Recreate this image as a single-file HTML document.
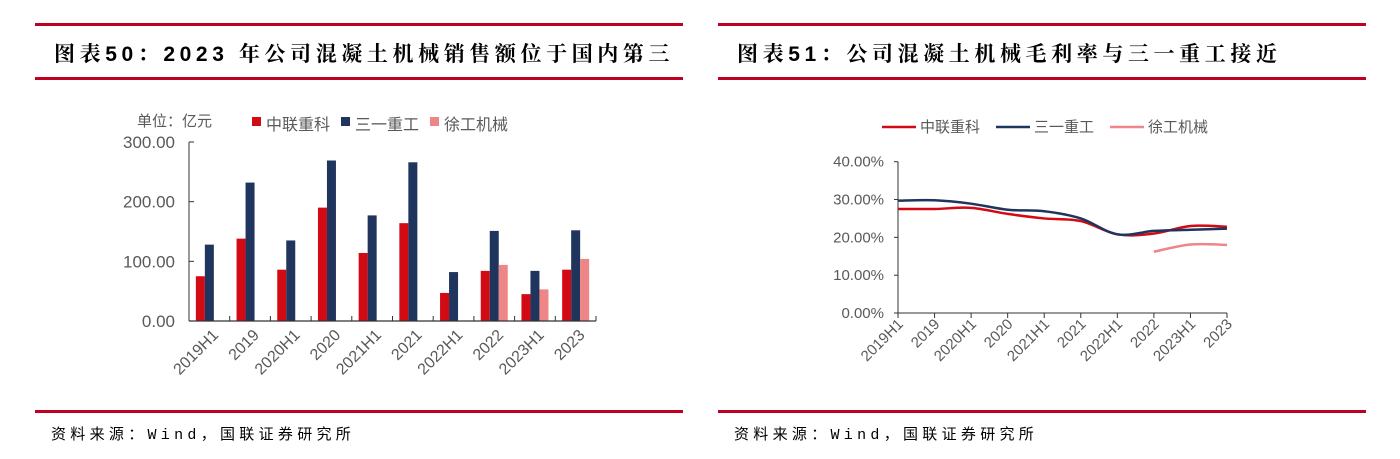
<!DOCTYPE html>
<html><head><meta charset="utf-8"><style>
body{margin:0;width:1400px;height:459px;background:#fff;position:relative;overflow:hidden;font-family:"Liberation Sans","Noto Sans CJK SC",sans-serif}
.hr{position:absolute;height:3px;background:#c00023}
.title{position:absolute;top:38px;font-family:"Liberation Sans","Noto Serif CJK SC",serif;font-weight:bold;font-size:21px;color:#000;white-space:nowrap;letter-spacing:4.6px}
.foot{position:absolute;top:423px;font-family:"Liberation Mono","Noto Sans CJK SC",monospace;font-size:15px;color:#000;letter-spacing:4.3px;white-space:nowrap}
svg{position:absolute;left:0;top:0}
</style></head><body>
<div class="hr" style="left:35px;top:23px;width:648px"></div>
<div class="hr" style="left:35px;top:77px;width:648px"></div>
<div class="hr" style="left:718px;top:23px;width:648px"></div>
<div class="hr" style="left:718px;top:77px;width:648px"></div>
<div class="hr" style="left:35px;top:410px;width:648px"></div>
<div class="hr" style="left:718px;top:410px;width:648px"></div>
<div class="title" style="left:54px">图表50：2023 年公司混凝土机械销售额位于国内第三</div>
<div class="title" style="left:737px">图表51：公司混凝土机械毛利率与三一重工接近</div>
<div class="foot" style="left:51px">资料来源：Wind，国联证券研究所</div>
<div class="foot" style="left:734px">资料来源：Wind，国联证券研究所</div>
<svg id="s" width="1400" height="459"></svg>
<script>
const categories=["2019H1","2019","2020H1","2020","2021H1","2021","2022H1","2022","2023H1","2023"];
const zoomlionSales=[75,138,86,190,114,164,47,84,45,86];
const sanySales=[128,232,135,269,177,266,82,151,84,152];
const xcmgSales=[null,null,null,null,null,null,null,94,53,104];
const barTicks=[0,100,200,300];
const barTickLabels=["0.00","100.00","200.00","300.00"];
const zoomlionMargin=[27.5,27.5,27.8,26.2,25.0,24.3,20.8,21.0,23.0,22.8];
const sanyMargin=[29.7,29.8,28.9,27.3,26.9,25.0,20.8,21.7,22.0,22.3];
const xcmgMargin=[null,null,null,null,null,null,null,16.2,18.1,18.0];
const lineTicks=[0,10,20,30,40];
const lineTickLabels=["0.00%","10.00%","20.00%","30.00%","40.00%"];
const seriesNames=["中联重科","三一重工","徐工机械"];
const colors=["#d10a14","#1f355e","#ee8587"];

const svg=document.getElementById('s');const NS="http://www.w3.org/2000/svg";
function el(t,a,txt){const e=document.createElementNS(NS,t);for(const k in a)e.setAttribute(k,a[k]);if(txt!=null)e.textContent=txt;svg.appendChild(e);return e;}

// Bar chart
const bx0=189,bx1=596,by0=321,by1=142,bMax=300;
const band=(bx1-bx0)/categories.length;
const bY=v=>by0-(v/bMax)*(by0-by1);
const bw=9;
[zoomlionSales,sanySales,xcmgSales].forEach((arr,si)=>{arr.forEach((v,i)=>{if(v==null)return;
 const x=bx0+i*band+(band-3*bw)/2+si*bw;
 const r=el('rect',{x:x,y:bY(v),width:bw,height:by0-bY(v),fill:colors[si]});
 
 });});
let a=el('line',{x1:bx0,y1:by1,x2:bx0,y2:by0,stroke:'#333','stroke-width':1});

a=el('line',{x1:bx0,y1:by0,x2:bx1,y2:by0,stroke:'#333','stroke-width':1.2});

barTicks.forEach((v,i)=>{el('line',{x1:bx0,y1:bY(v),x2:bx0+5,y2:bY(v),stroke:'#333'});
 const t=el('text',{x:bx0-14,y:bY(v)+6,'text-anchor':'end','font-size':17,fill:'#595959'},barTickLabels[i]);
 });
categories.forEach((c,i)=>{const x=bx0+(i+1)*band;el('line',{x1:x,y1:by0,x2:x,y2:by0-5,stroke:'#333'});
 const cx=bx0+(i+0.5)*band+10;
 const t=el('text',{x:cx,y:336,'text-anchor':'end','font-size':16,fill:'#595959',transform:`rotate(-45 ${cx} 336)`},c);
 });
let u=el('text',{x:137,y:126,'font-size':15,fill:'#595959'},'单位：亿元');

[[252,"中联重科"],[341,"三一重工"],[430,"徐工机械"]].forEach((p,i)=>{
 el('rect',{x:p[0],y:117,width:9,height:9,fill:colors[i]});
 const t=el('text',{x:p[0]+14,y:130,'font-size':16,fill:'#595959'},p[1]);
 });

// Line chart
const lx0=898,lx1=1227,ly0=313,ly1=161.7,lMax=40;
const lX=i=>lx0+i*(lx1-lx0)/(categories.length-1);
const lY=v=>ly0-(v/lMax)*(ly0-ly1);
a=el('line',{x1:lx0,y1:ly1,x2:lx0,y2:ly0,stroke:'#333'});
a=el('line',{x1:lx0,y1:ly0,x2:lx1,y2:ly0,stroke:'#333'});
lineTicks.forEach((v,i)=>{el('line',{x1:lx0-4,y1:lY(v),x2:lx0,y2:lY(v),stroke:'#333'});
 const t=el('text',{x:lx0-14,y:lY(v)+5,'text-anchor':'end','font-size':15,fill:'#595959'},lineTickLabels[i]);
 });
categories.forEach((c,i)=>{const x=lX(i);el('line',{x1:x,y1:ly0,x2:x,y2:ly0+5,stroke:'#333'});
 const t=el('text',{x:x+6,y:325,'text-anchor':'end','font-size':15,fill:'#595959',transform:`rotate(-45 ${x+6} 325)`},c);
 });
function smooth(pts){let d=`M${pts[0][0]},${pts[0][1]}`;for(let i=0;i<pts.length-1;i++){const p0=pts[i-1]||pts[i],p1=pts[i],p2=pts[i+1],p3=pts[i+2]||p2;
 d+=` C${p1[0]+(p2[0]-p0[0])/6},${p1[1]+(p2[1]-p0[1])/6} ${p2[0]-(p3[0]-p1[0])/6},${p2[1]-(p3[1]-p1[1])/6} ${p2[0]},${p2[1]}`;}return d;}
[zoomlionMargin,sanyMargin,xcmgMargin].forEach((arr,si)=>{const pts=[];arr.forEach((v,i)=>{if(v!=null)pts.push([lX(i),lY(v)]);});
 const p=el('path',{d:smooth(pts),fill:'none',stroke:colors[si],'stroke-width':2.5});
 });
[[882,"中联重科"],[996,"三一重工"],[1110,"徐工机械"]].forEach((p,i)=>{
 el('line',{x1:p[0],y1:127,x2:p[0]+34,y2:127,stroke:colors[i],'stroke-width':2.5});
 const t=el('text',{x:p[0]+38,y:132,'font-size':15,fill:'#595959'},p[1]);
 });
</script>
</body></html>
